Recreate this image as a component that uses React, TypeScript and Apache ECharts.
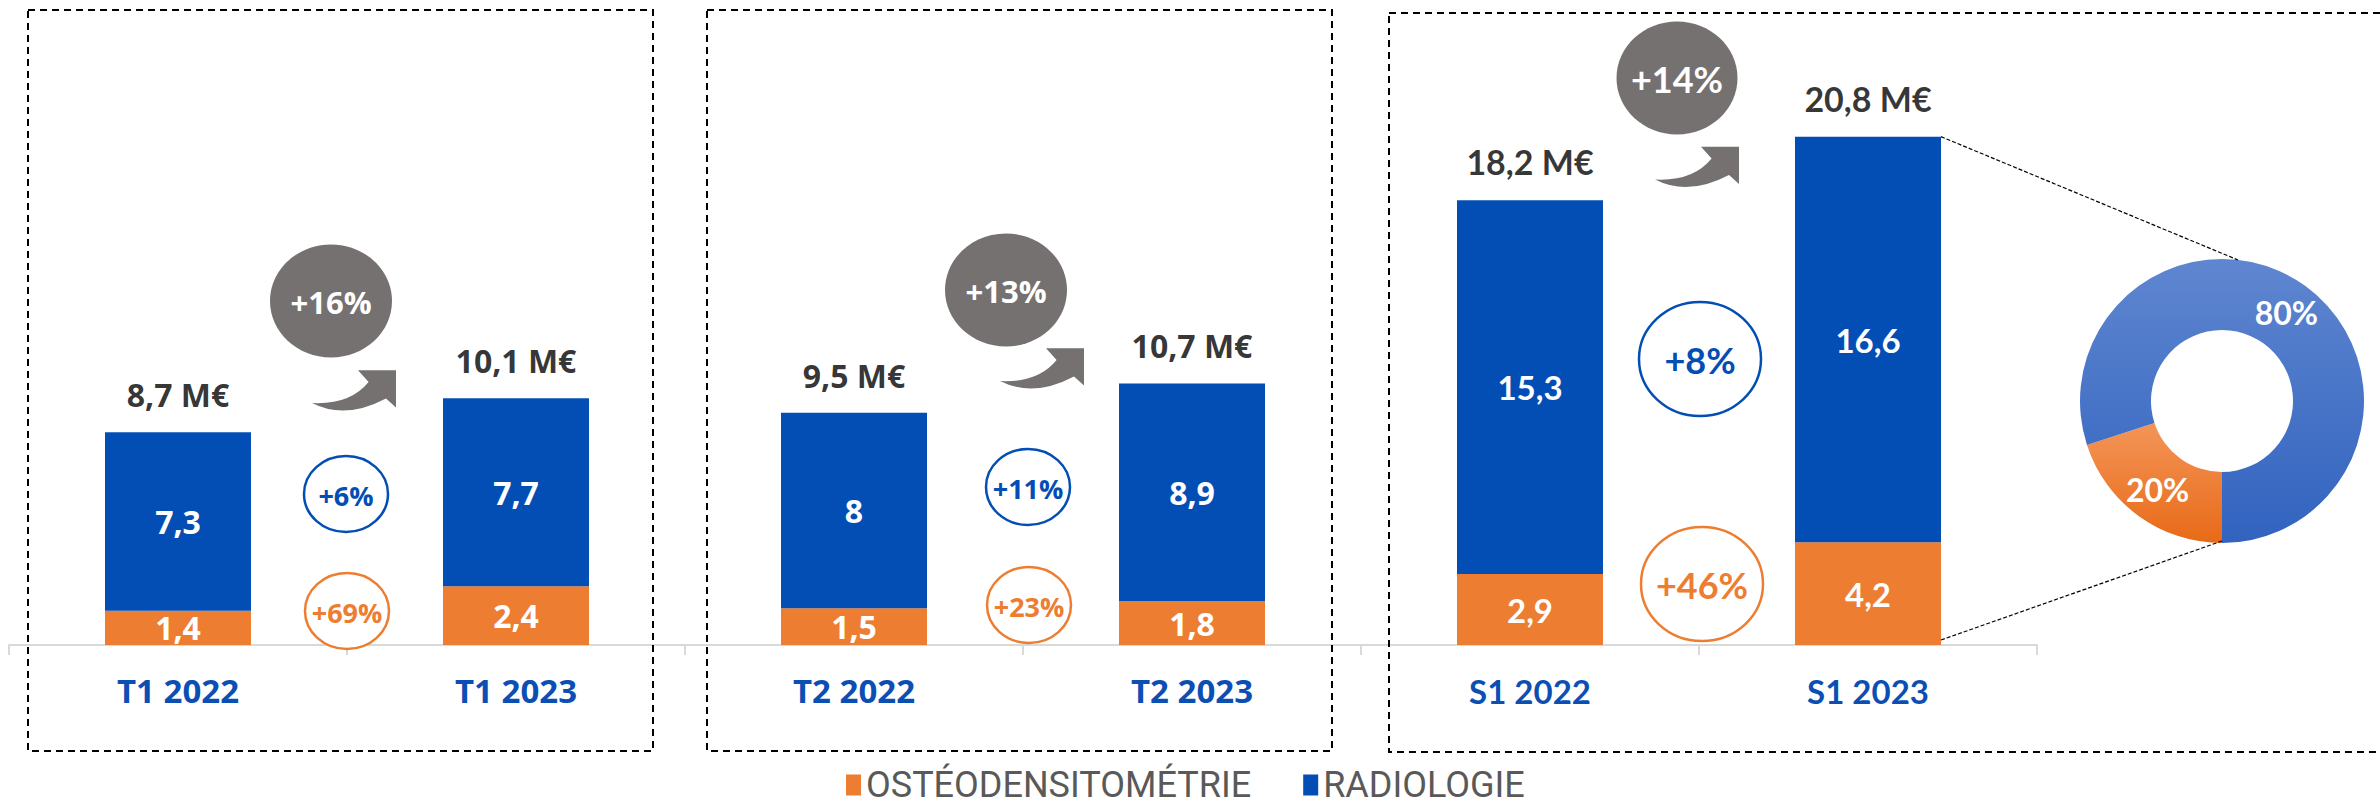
import React, { useEffect, useRef } from "react";
import * as echarts from "echarts";

// ---------- data ----------
const categories = ["T1 2022", "T1 2023", "T2 2022", "T2 2023", "S1 2022", "S1 2023"];
const osteoValues = [1.4, 2.4, 1.5, 1.8, 2.9, 4.2];
const radioValues = [7.3, 7.7, 8, 8.9, 15.3, 16.6];
const totalValues = [8.7, 10.1, 9.5, 10.7, 18.2, 20.8];
const totalGrowth = ["+16%", "+13%", "+14%"];
const radioGrowth = ["+6%", "+11%", "+8%"];
const osteoGrowth = ["+69%", "+23%", "+46%"];
const seriesNames = ["OSTÉODENSITOMÉTRIE", "RADIOLOGIE"];
const shareNames = ["Part ostéodensitométrie S1 2023", "Part radiologie S1 2023"];
const shareValues = [20, 80];

// ---------- styles / layout ----------
const BLUE = "#034EB4";
const ORANGE = "#ED7D31";
const GRAY = "#767171";
const AXIS_BLUE = "#0B4FB5";
const PANEL_FONT = ['"Open Sans"', '"Open Sans"', "Lato"];
const BAR_FONT_SIZE = [32, 32, 33];
const TOTAL_FONT_SIZE = [32, 32, 34];
const BOXES = [
  [28, 10, 625, 741],
  [707, 10, 625, 741],
  [1389, 13, 1000, 739],
];
const ANNOT = [
  { gray: [-16, 301], arrow: [-35, 403], blue: [-1, 494], orange: [0, 611], r: [42, 38], gr: [61, 56.5], f: 27, gf: 31 },
  { gray: [-17, 290], arrow: [-23, 381], blue: [5, 487], orange: [6, 605], r: [42, 38], gr: [61, 56.5], f: 27, gf: 31 },
  { gray: [-22, 78], arrow: [-44, 179.5], blue: [1, 359], orange: [3, 584], r: [61, 57], gr: [60.5, 56.5], f: 36, gf: 36 },
];
const PIE_CENTER = [2222, 401];
const PIE_RADIUS = [71, 142];
const BAR_WIDTH = 146;

const ARROW_PATH = "M0,0 Q38,2 56.6,-21 L46,-32.7 L84,-32.7 L84,4.5 L74,-4.6 Q33,17 0,0 Z";
echarts.graphic.registerShape("growthArrow", echarts.graphic.extendPath(ARROW_PATH, {}));

const fr = (v: number) => String(v).replace(".", ",");
const panelOf = (i: number) => Math.floor(i / 2);

export default function App() {
  const ref = useRef<HTMLDivElement>(null);

  useEffect(() => {
    document.body.style.margin = "0";
    const chart = echarts.init(ref.current!, null, { renderer: "svg" });

    const barLabel = (i: number) => ({
      fontFamily: PANEL_FONT[panelOf(i)],
      fontSize: BAR_FONT_SIZE[panelOf(i)],
    });

    chart.setOption({
      animation: false,
      legend: {
        data: seriesNames,
        left: 841,
        top: 762,
        icon: "rect",
        itemWidth: 15,
        itemHeight: 21,
        itemGap: 52,
        selectedMode: false,
        textStyle: { fontFamily: "Roboto", fontSize: 36, color: "#595959", lineHeight: 36 },
      },
      grid: { left: 9, right: 343, top: 34, bottom: 167, containLabel: false },
      xAxis: {
        type: "category",
        data: categories,
        axisLine: { lineStyle: { color: "#D9D9D9", width: 2 } },
        axisTick: { show: true, interval: 0, length: 10, lineStyle: { color: "#D9D9D9", width: 2 } },
        axisLabel: {
          interval: 0,
          margin: 29,
          formatter: (v: string) => (categories.indexOf(v) >= 4 ? `{b|${v}}` : `{a|${v}}`),
          rich: {
            a: { fontFamily: '"Open Sans"', fontWeight: "bold", fontSize: 33, lineHeight: 33, color: AXIS_BLUE },
            b: { fontFamily: "Lato", fontWeight: "bold", fontSize: 33, lineHeight: 33, color: AXIS_BLUE },
          },
        },
      },
      yAxis: { type: "value", min: 0, max: 25, show: false, splitLine: { show: false } },
      series: [
        {
          name: seriesNames[0],
          type: "bar",
          stack: "total",
          barWidth: BAR_WIDTH,
          silent: true,
          itemStyle: { color: ORANGE },
          label: {
            show: true,
            position: "inside",
            color: "#fff",
            fontWeight: "bold",
            formatter: (p: any) => fr(p.value),
          },
          data: osteoValues.map((v, i) => ({ value: v, label: barLabel(i) })),
        },
        {
          name: seriesNames[1],
          type: "bar",
          stack: "total",
          barWidth: BAR_WIDTH,
          silent: true,
          itemStyle: { color: BLUE },
          label: {
            show: true,
            position: "inside",
            color: "#fff",
            fontWeight: "bold",
            formatter: (p: any) => fr(p.value),
          },
          data: radioValues.map((v, i) => ({ value: v, label: barLabel(i) })),
        },
        {
          name: "total",
          type: "scatter",
          symbolSize: 1,
          silent: true,
          itemStyle: { color: "rgba(0,0,0,0)" },
          label: {
            show: true,
            position: "top",
            distance: 21,
            color: "#000",
            fontWeight: "bold",
            formatter: (p: any) => `${fr(p.value)} M€`,
          },
          data: totalValues.map((v, i) => ({
            value: v,
            label: { fontFamily: PANEL_FONT[panelOf(i)], fontSize: TOTAL_FONT_SIZE[panelOf(i)] },
          })),
        },
        {
          name: "part",
          type: "pie",
          silent: true,
          center: PIE_CENTER,
          radius: PIE_RADIUS,
          startAngle: 270,
          clockwise: true,
          label: {
            show: true,
            position: "inside",
            color: "#fff",
            fontFamily: "Lato",
            fontWeight: "bold",
            fontSize: 32,
            formatter: (p: any) => `${p.value}%`,
          },
          labelLine: { show: false },
          data: shareValues.map((v, i) => ({
            name: shareNames[i],
            value: v,
            itemStyle: {
              color:
                i === 0
                  ? new echarts.graphic.LinearGradient(0, 0, 0, 1, [
                      { offset: 0, color: "#F39558" },
                      { offset: 1, color: "#E86A17" },
                    ])
                  : new echarts.graphic.LinearGradient(0, 0, 0, 1, [
                      { offset: 0, color: "#5F86D0" },
                      { offset: 1, color: "#3163BF" },
                    ]),
            },
          })),
        },
      ],
    });

    // annotations computed from the axes
    const xOf = (i: number) => chart.convertToPixel({ xAxisIndex: 0 }, categories[i]) as number;
    const yOf = (v: number) => chart.convertToPixel({ yAxisIndex: 0 }, v) as number;
    const graphics: any[] = [];

    BOXES.forEach(([x, y, w, h]) => {
      graphics.push({
        type: "rect",
        shape: { x, y, width: w, height: h },
        style: { fill: "none", stroke: "#000", lineWidth: 2, lineDash: [7, 5] },
        silent: true,
        z: 1,
      });
    });

    for (let p = 0; p < 3; p++) {
      const a = ANNOT[p];
      const bx = (xOf(2 * p) + xOf(2 * p + 1)) / 2;
      const font = PANEL_FONT[p];
      graphics.push({
        type: "ellipse",
        shape: { cx: bx + a.gray[0], cy: a.gray[1], rx: a.gr[0], ry: a.gr[1] },
        style: { fill: GRAY },
        silent: true,
        z: 10,
      });
      graphics.push({
        type: "text",
        x: bx + a.gray[0],
        y: a.gray[1] + 1,
        style: {
          text: totalGrowth[p],
          fill: "#fff",
          fontFamily: font,
          fontWeight: "bold",
          fontSize: a.gf,
          align: "center",
          verticalAlign: "middle",
        },
        silent: true,
        z: 11,
      });
      graphics.push({
        type: "growthArrow",
        x: bx + a.arrow[0],
        y: a.arrow[1],
        style: { fill: GRAY },
        silent: true,
        z: 10,
      });
      const rings: [number[], string, string][] = [
        [a.blue, BLUE, radioGrowth[p]],
        [a.orange, ORANGE, osteoGrowth[p]],
      ];
      rings.forEach(([pos, col, txt]) => {
        graphics.push({
          type: "ellipse",
          shape: { cx: bx + pos[0], cy: pos[1], rx: a.r[0], ry: a.r[1] },
          style: { fill: "#fff", stroke: col, lineWidth: 2.5 },
          silent: true,
          z: 10,
        });
        graphics.push({
          type: "text",
          x: bx + pos[0],
          y: pos[1] + 1,
          style: {
            text: txt,
            fill: col,
            fontFamily: font,
            fontWeight: "bold",
            fontSize: a.f,
            align: "center",
            verticalAlign: "middle",
          },
          silent: true,
          z: 11,
        });
      });
    }

    // connectors from the last bar to the donut
    const last = categories.length - 1;
    const barRight = xOf(last) + BAR_WIDTH / 2;
    const topY = yOf(totalValues[last]);
    const baseY = yOf(0);
    graphics.push({
      type: "line",
      shape: { x1: barRight, y1: topY, x2: PIE_CENTER[0] + 16, y2: PIE_CENTER[1] - PIE_RADIUS[1] + 1 },
      style: { stroke: "#000", lineWidth: 1.2, lineDash: [4, 2] },
      silent: true,
      z: 5,
    });
    graphics.push({
      type: "line",
      shape: { x1: barRight, y1: baseY - 5, x2: PIE_CENTER[0], y2: PIE_CENTER[1] + PIE_RADIUS[1] - 2 },
      style: { stroke: "#000", lineWidth: 1.2, lineDash: [4, 2] },
      silent: true,
      z: 5,
    });

    chart.setOption({ graphic: graphics });

    return () => chart.dispose();
  }, []);

  return (
    <div
      ref={ref}
      style={{ position: "absolute", left: 0, top: 0, width: 2380, height: 812, background: "#fff" }}
    />
  );
}
